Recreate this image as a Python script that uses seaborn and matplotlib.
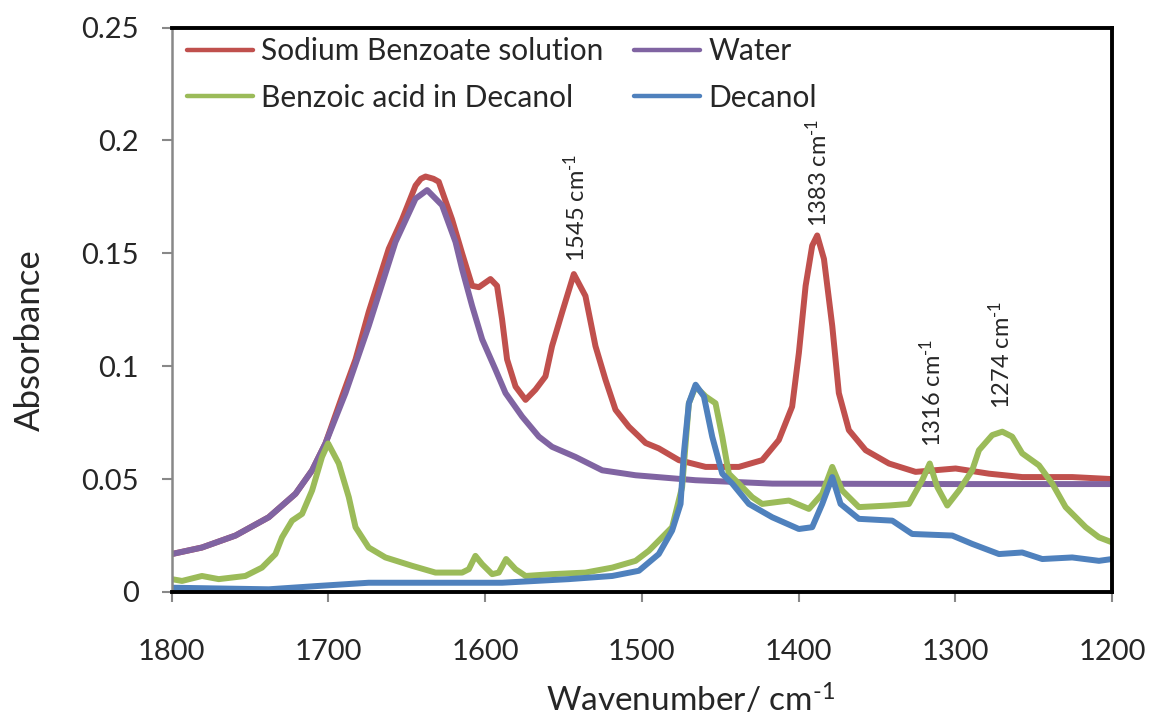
import numpy as np
import pandas as pd
import matplotlib
matplotlib.use("Agg")
import matplotlib.pyplot as plt
import seaborn as sns
from matplotlib.lines import Line2D

# ---------------- data ----------------
series_names = ["Sodium Benzoate solution", "Water", "Benzoic acid in Decanol", "Decanol"]

red_wn = [1800, 1780.7, 1759.3, 1738.1, 1721, 1710.4, 1701.9, 1691.3, 1682.7, 1674.3, 1661.5, 1653,
          1644.4, 1641, 1638, 1633, 1629.6, 1621.1, 1614.7, 1608.3, 1604, 1596.6, 1592.4, 1589.2,
          1586, 1580.6, 1574.2, 1567.9, 1561.5, 1557.3, 1550.9, 1543.4, 1536, 1529.6, 1523.2,
          1516.8, 1508.3, 1502, 1497.6, 1489.2, 1476.4, 1459.3, 1438.1, 1423.2, 1412.6, 1404.1,
          1399.8, 1395.5, 1391.3, 1388.1, 1383.8, 1378.5, 1374.3, 1367.9, 1357.2, 1342.3, 1325.3,
          1299.8, 1278.5, 1257.3, 1225.4, 1200]
red_abs = [0.0168, 0.0197, 0.025, 0.0331, 0.0435, 0.0539, 0.0658, 0.0866, 0.103, 0.124, 0.152, 0.165,
           0.180, 0.183, 0.184, 0.183, 0.1817, 0.165, 0.150, 0.1356, 0.135, 0.1386, 0.1356, 0.1208,
           0.103, 0.091, 0.0851, 0.0896, 0.0955, 0.1089, 0.1238, 0.1408, 0.1311, 0.1089, 0.094,
           0.0807, 0.0732, 0.069, 0.066, 0.0636, 0.0584, 0.0554, 0.0554, 0.0584, 0.0673, 0.0821,
           0.1059, 0.1356, 0.1534, 0.1579, 0.1475, 0.1178, 0.0881, 0.0717, 0.0628, 0.0569, 0.0532,
           0.0547, 0.0524, 0.0509, 0.0509, 0.0500]

purple_wn = [1800, 1780.7, 1759.3, 1738.1, 1721, 1710.4, 1701.9, 1689.1, 1674.3, 1657.2, 1644.4, 1637,
             1627.5, 1618.9, 1614.7, 1608.3, 1601.9, 1593.4, 1587, 1576.4, 1565.7, 1557.3, 1542.3,
             1525.3, 1504, 1465.7, 1416.8, 1300, 1200]
purple_abs = [0.0168, 0.0197, 0.025, 0.0331, 0.0435, 0.0539, 0.0658, 0.0881, 0.1178, 0.155, 0.1742, 0.178,
              0.1713, 0.155, 0.143, 0.1267, 0.1119, 0.0985, 0.0881, 0.0777, 0.0688, 0.0643, 0.0598,
              0.0539, 0.0517, 0.0495, 0.048, 0.0478, 0.0478]

green_wn = [1800, 1793.4, 1780.7, 1770, 1753, 1742.4, 1733.8, 1729.6, 1723.2, 1716.8, 1710.4, 1704.1,
            1700.2, 1693.4, 1687, 1682.7, 1674.3, 1663.6, 1646.6, 1631.7, 1614.7, 1610.4, 1606.2,
            1601.9, 1595.5, 1591.3, 1586.6, 1580.6, 1574.2, 1557.3, 1536, 1518.9, 1504, 1495.5,
            1480.7, 1474.3, 1470, 1465.7, 1459.3, 1453, 1448.7, 1444.5, 1438.1, 1429.6, 1423.2,
            1406.2, 1393.4, 1384.9, 1378.5, 1372.2, 1361.5, 1342.3, 1329.6, 1321.1, 1316.3, 1311.5,
            1305.1, 1297.6, 1289.2, 1284.9, 1276.4, 1270, 1263.7, 1257.3, 1246.6, 1238.1, 1229.6,
            1216.8, 1208.3, 1200]
green_abs = [0.0057, 0.0049, 0.0071, 0.0057, 0.0071, 0.0108, 0.0168, 0.0242, 0.0316, 0.0346, 0.045, 0.0598,
             0.0658, 0.0569, 0.042, 0.0287, 0.0197, 0.0153, 0.0116, 0.0086, 0.0086, 0.0101, 0.016,
             0.0123, 0.0079, 0.0086, 0.0146, 0.0101, 0.0071, 0.0079, 0.0086, 0.0108, 0.0138, 0.0183,
             0.0287, 0.0465, 0.0836, 0.091, 0.0866, 0.0836, 0.0688, 0.0524, 0.048, 0.042, 0.039,
             0.0405, 0.0368, 0.0435, 0.0554, 0.045, 0.0376, 0.0383, 0.039, 0.0495, 0.0569, 0.0465,
             0.0383, 0.045, 0.0539, 0.0628, 0.0695, 0.071, 0.0688, 0.0614, 0.0561, 0.048, 0.0376,
             0.0287, 0.0242, 0.022]

blue_wn = [1800, 1738, 1706, 1674.3, 1631.7, 1589.2, 1546.6, 1518.9, 1501.9, 1489.2, 1480.7, 1475.3,
           1473.2, 1470, 1465.7, 1460.4, 1455.1, 1448.7, 1442.3, 1431.7, 1416.8, 1399.8, 1391.3,
           1384.9, 1378.5, 1373.2, 1361.5, 1340.2, 1327.5, 1301.9, 1289.2, 1272.1, 1257.3, 1244.5,
           1225.4, 1208.3, 1200]
blue_abs = [0.0019, 0.0012, 0.0027, 0.0041, 0.0041, 0.0041, 0.0057, 0.0071, 0.0094, 0.0168, 0.0272, 0.039,
            0.0614, 0.0836, 0.0918, 0.0866, 0.0688, 0.0524, 0.048, 0.039, 0.0331, 0.0279, 0.0287,
            0.039, 0.0509, 0.039, 0.0324, 0.0316, 0.0257, 0.025, 0.0213, 0.0168, 0.0175, 0.0146,
            0.0153, 0.0138, 0.0146]

peak_labels = ["1545 cm$^{\\text{-}1}$", "1383 cm$^{\\text{-}1}$", "1316 cm$^{\\text{-}1}$", "1274 cm$^{\\text{-}1}$"]
peak_wn = [1542, 1388, 1315, 1271]
peak_y = [0.146, 0.1615, 0.064, 0.081]

x_ticks = [1800, 1700, 1600, 1500, 1400, 1300, 1200]
y_ticks = [0, 0.05, 0.1, 0.15, 0.2, 0.25]
y_tick_labels = ["0", "0.05", "0.1", "0.15", "0.2", "0.25"]

colors = {"Sodium Benzoate solution": "#C0504D", "Water": "#8064A2",
          "Benzoic acid in Decanol": "#9BBB59", "Decanol": "#4F81BD"}

# ---------------- build long table ----------------
frames = []
for name, wn, ab in [(series_names[0], red_wn, red_abs), (series_names[1], purple_wn, purple_abs),
                     (series_names[2], green_wn, green_abs), (series_names[3], blue_wn, blue_abs)]:
    frames.append(pd.DataFrame({"wn": wn, "abs": ab, "series": name}))
df = pd.concat(frames, ignore_index=True)

sns.set_theme(style="white")
plt.rcParams["font.family"] = ["Lato", "DejaVu Sans"]
plt.rcParams["mathtext.fontset"] = "custom"
plt.rcParams["mathtext.rm"] = "Lato"
plt.rcParams["mathtext.it"] = "Lato"

W, H = 1153, 718
fig = plt.figure(figsize=(W / 100, H / 100), dpi=100)
ax_l, ax_r, ax_t, ax_b = 171.7, 1112.0, 27.5, 592.0
ax = fig.add_axes([ax_l / W, (H - ax_b) / H, (ax_r - ax_l) / W, (ax_b - ax_t) / H])

sns.lineplot(data=df, x="wn", y="abs", hue="series", hue_order=series_names,
             palette=colors, sort=False, estimator=None, linewidth=4.3, ax=ax, legend=False,
             solid_joinstyle="round", solid_capstyle="round")

ax.set_xlim(1800, 1200)
ax.set_ylim(0, 0.25)
ax.set_xticks(x_ticks)
ax.set_xticklabels([str(t) for t in x_ticks])
ax.set_yticks(y_ticks)
ax.set_yticklabels(y_tick_labels)

ax.tick_params(axis="both", which="major", labelsize=21, direction="out", length=7.5,
               width=1.5, color="#888888", bottom=True, left=True)
ax.tick_params(axis="x", pad=26)
ax.tick_params(axis="y", pad=16)

for side in ["top", "right", "bottom"]:
    ax.spines[side].set_color("black")
    ax.spines[side].set_linewidth(2.8)
ax.spines["left"].set_color("#888888")
ax.spines["left"].set_linewidth(1.8)

ax.set_xlabel("")
ax.set_ylabel("")
fig.text(691 / W, (H - 712) / H, "Wavenumber/ cm$^{\\text{-}1}$", fontsize=24,
         ha="center", va="baseline")
fig.text(30 / W, (H - 340) / H, "Absorbance", fontsize=25, rotation=90,
         ha="center", va="center")

for lab, x, y in zip(peak_labels, peak_wn, peak_y):
    ax.text(x, y, lab, rotation=90, ha="center", va="bottom", fontsize=17)

order = [series_names[0], series_names[2], series_names[1], series_names[3]]
handles = [Line2D([0], [0], color=colors[n], lw=3.2, solid_capstyle="round") for n in order]
fig.legend(handles, order, loc="upper left", bbox_to_anchor=(187 / W, (H - 37) / H),
           ncol=2, frameon=False, fontsize=21.5, handlelength=2.2, columnspacing=1.05,
           handletextpad=0.27, labelspacing=0.62, borderpad=0, borderaxespad=0)

fig.savefig("out.png", dpi=100)
